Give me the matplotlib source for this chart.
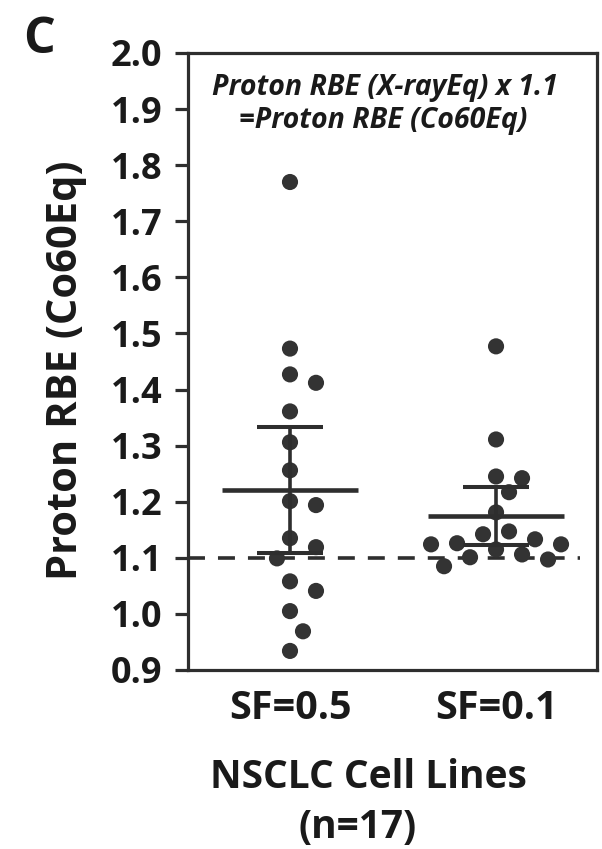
import numpy as np
import matplotlib
matplotlib.use('Agg')
import matplotlib.pyplot as plt

plt.rcParams['font.family'] = ['Open Sans', 'DejaVu Sans']
plt.rcParams['font.weight'] = 'bold'

# Proton RBE (Co60Eq) for the 17 NSCLC cell lines at two survival levels
groups = ['SF=0.5', 'SF=0.1']
rbe_sf05 = [1.770, 1.473, 1.427, 1.412, 1.361, 1.306, 1.256, 1.201, 1.194,
            1.135, 1.119, 1.099, 1.058, 1.041, 1.005, 0.969, 0.934]
rbe_sf01 = [1.477, 1.311, 1.245, 1.242, 1.217, 1.181, 1.147, 1.142, 1.133,
            1.126, 1.124, 1.124, 1.115, 1.106, 1.101, 1.097, 1.085]
reference_rbe = 1.1
y_ticks = [0.9, 1.0, 1.1, 1.2, 1.3, 1.4, 1.5, 1.6, 1.7, 1.8, 1.9, 2.0]

T_CRIT_95 = 2.120  # t(0.975, df=16)

INK = '#2e2e2e'
DOT = '#333333'


def swarm_x(ax, values, center, gap_x=15, gap_y=24, step_px=13):
    """Spread crowded dots sideways, working in screen pixels.
    Two dots clash when they sit inside an ellipse of gap_x by gap_y."""
    values = np.asarray(values)
    pix = ax.transData.transform(np.column_stack([np.full(len(values), center), values]))
    ys = pix[:, 1]
    cands = [0] + [s * j for j in range(1, 12) for s in (1, -1)]
    placed = []
    xs = np.zeros(len(values))
    for i in np.argsort(-values):
        for c in cands:
            x = c * step_px
            if all(((x - px) / gap_x) ** 2 + ((ys[i] - py) / gap_y) ** 2 >= 1 for px, py in placed):
                break
        placed.append((x, ys[i]))
        xs[i] = x
    px_per_unit = ax.transData.transform((1, 0))[0] - ax.transData.transform((0, 0))[0]
    return center + xs / px_per_unit


fig = plt.figure(figsize=(6.02, 8.49), dpi=100)
ax = fig.add_axes([188 / 602, 1 - 670 / 849, 409 / 602, 617 / 849])
ax.set_xlim(0.505, 2.49)
ax.set_ylim(0.9, 2.0)

for spine in ax.spines.values():
    spine.set_linewidth(2.3)
    spine.set_color(INK)

ax.set_yticks(y_ticks)
ax.set_yticklabels([f'{t:.1f}' for t in y_ticks])
ax.tick_params(axis='y', direction='out', length=9.5, width=2.3, color=INK,
               pad=9, labelsize=26, labelcolor='#1a1a1a')
ax.set_xticks([1, 2])
ax.set_xticklabels(groups)
ax.tick_params(axis='x', length=0, pad=14, labelsize=28.5, labelcolor='#1a1a1a')

# RBE = 1.1 reference line
ax.axhline(reference_rbe, xmin=0.0, xmax=0.958, color=INK, lw=2.6,
           dashes=(4.7, 3.6), zorder=1)

for pos, vals in zip([1, 2], [rbe_sf05, rbe_sf01]):
    vals = np.array(vals)
    xs = swarm_x(ax, vals, pos)
    ax.scatter(xs, vals, s=135, color=DOT, edgecolors='none', zorder=2)

    mean = vals.mean()
    ci = T_CRIT_95 * vals.std(ddof=1) / np.sqrt(len(vals))
    ax.hlines(mean, pos - 0.33, pos + 0.33, color=INK, lw=3.3, zorder=3)
    ax.vlines(pos, mean - ci, mean + ci, color=INK, lw=2.6, zorder=3)
    ax.hlines([mean - ci, mean + ci], pos - 0.158, pos + 0.158, color=INK, lw=2.9, zorder=3)

fig.text(385 / 602, 1 - 95 / 849, 'Proton RBE (X-rayEq) x 1.1', ha='center', va='baseline',
         fontsize=20.5, style='italic', color='#1a1a1a')
fig.text(383 / 602, 1 - 128 / 849, '=Proton RBE (Co60Eq)', ha='center', va='baseline',
         fontsize=20.5, style='italic', color='#1a1a1a')

fig.text(67 / 602, 1 - 370 / 849, 'Proton RBE (Co60Eq)', rotation=90, ha='center', va='center',
         fontsize=30, color='#1a1a1a')
fig.text(368 / 602, 1 - 788 / 849, 'NSCLC Cell Lines', ha='center', va='baseline',
         fontsize=28, color='#1a1a1a')
fig.text(358 / 602, 1 - 838 / 849, '(n=17)', ha='center', va='baseline',
         fontsize=28, color='#1a1a1a')

fig.text(39 / 602, 1 - 53 / 849, 'C', ha='center', va='baseline', fontsize=36, color='#1a1a1a')

fig.savefig('out.png', dpi=100)
